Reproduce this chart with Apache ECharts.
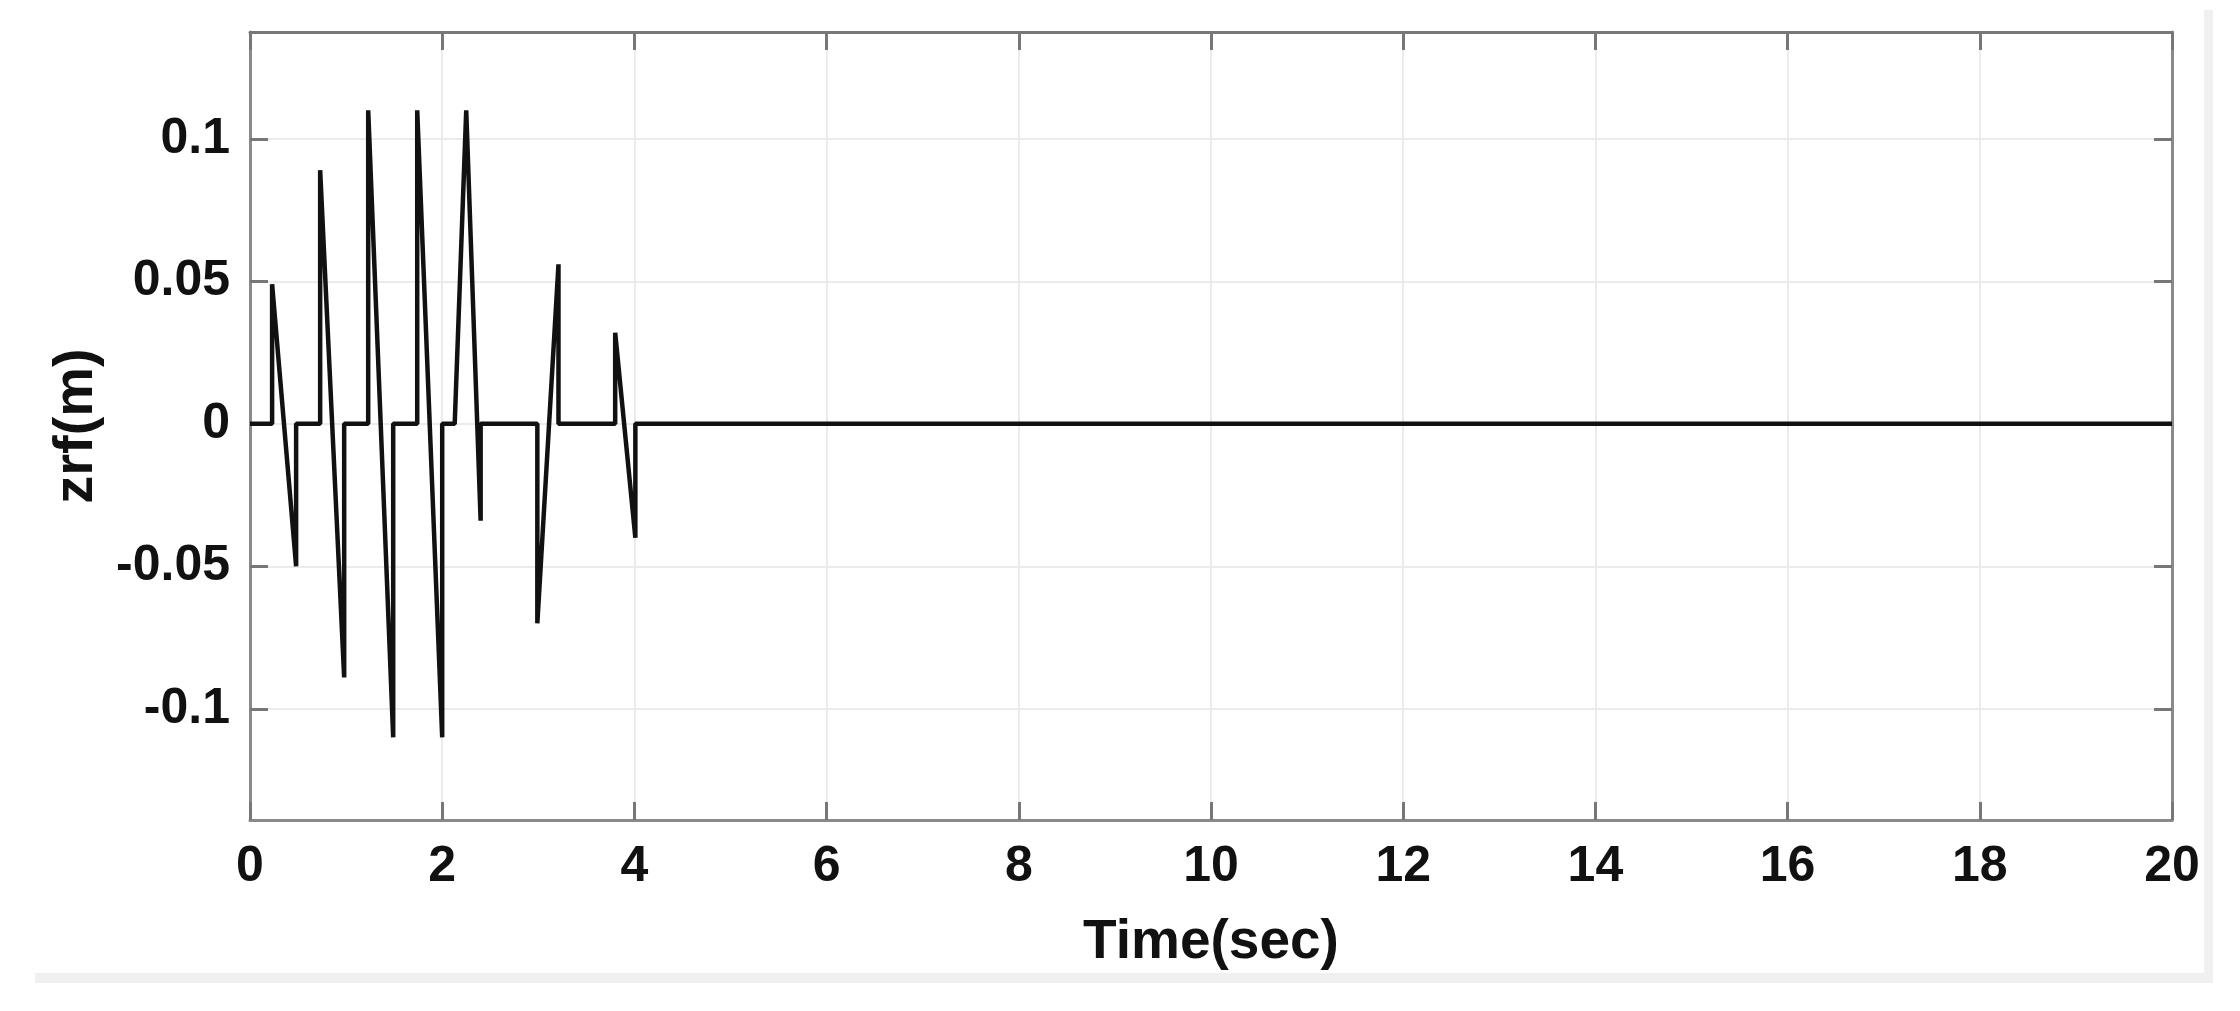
<!DOCTYPE html>
<html>
<head>
<meta charset="utf-8">
<title>zrf(m)</title>
<script src="https://cdn.jsdelivr.net/npm/echarts@6/dist/echarts.min.js"></script>
<style>
  html, body { margin: 0; padding: 0; background: #fff; }
  #chart { width: 2240px; height: 1011px; }
</style>
</head>
<body>
<div id="chart"></div>
<script>
// road input zrf(m) against time
const timeSec = [0, 0.23, 0.23, 0.48, 0.48, 0.73, 0.73, 0.98, 0.98, 1.23, 1.23, 1.49, 1.49,
  1.74, 1.74, 2.0, 2.0, 2.13, 2.25, 2.4, 2.4, 2.99, 2.99, 3.21, 3.21, 3.8, 3.8, 4.01, 4.01, 20];
const zrf = [0, 0, 0.049, -0.05, 0, 0, 0.089, -0.089, 0, 0, 0.11, -0.11, 0,
  0, 0.11, -0.11, 0, 0, 0.11, -0.034, 0, 0, -0.07, 0.056, 0, 0, 0.032, -0.04, 0, 0];
const yTicks = [-0.1, -0.05, 0, 0.05, 0.1];
const yMin = -0.139;
const yMax = 0.1375;

const font = 'Liberation Sans, Arial, Helvetica, sans-serif';
const axisGrey = '#8a8a8a';
const gridGrey = '#ebebeb';

const chart = echarts.init(document.getElementById('chart'));

const points = timeSec.map((t, i) => [t, zrf[i]]);

const option = {
  animation: false,
  backgroundColor: '#fff',
  grid: {
    left: 250,
    right: 68,
    top: 32,
    bottom: 191,
    containLabel: false,
    outerBoundsMode: 'none'
  },
  xAxis: [
    {
      type: 'value',
      min: 0,
      max: 20,
      interval: 2,
      name: 'Time(sec)',
      nameLocation: 'middle',
      nameGap: 95,
      nameTextStyle: { fontFamily: font, fontWeight: 'bold', fontSize: 55, color: '#111' },
      axisLine: { onZero: false, lineStyle: { color: axisGrey, width: 3 } },
      axisTick: { inside: true, length: 18, lineStyle: { color: '#777', width: 3 } },
      axisLabel: { margin: 22, fontFamily: font, fontWeight: 'bold', fontSize: 50, color: '#111' },
      splitLine: { show: true, lineStyle: { color: gridGrey, width: 2 } }
    },
    {
      type: 'value',
      position: 'top',
      min: 0,
      max: 20,
      interval: 2,
      axisLine: { onZero: false, lineStyle: { color: '#777', width: 3 } },
      axisTick: { inside: true, length: 18, lineStyle: { color: '#777', width: 3 } },
      axisLabel: { show: false },
      splitLine: { show: false }
    }
  ],
  yAxis: [
    {
      type: 'value',
      min: yMin,
      max: yMax,
      name: 'zrf(m)',
      nameLocation: 'middle',
      nameGap: 145,
      nameRotate: 90,
      nameTextStyle: { fontFamily: font, fontWeight: 'bold', fontSize: 56, color: '#111' },
      axisLine: { onZero: false, lineStyle: { color: axisGrey, width: 3 } },
      axisTick: { inside: true, length: 18, customValues: yTicks, lineStyle: { color: '#777', width: 3 } },
      axisLabel: { margin: 20, customValues: yTicks, fontFamily: font, fontWeight: 'bold', fontSize: 50, color: '#111' },
      splitLine: { show: true, lineStyle: { color: gridGrey, width: 2 } }
    },
    {
      type: 'value',
      position: 'right',
      min: yMin,
      max: yMax,
      axisLine: { onZero: false, lineStyle: { color: axisGrey, width: 3 } },
      axisTick: { inside: true, length: 18, customValues: yTicks, lineStyle: { color: '#777', width: 3 } },
      axisLabel: { show: false },
      splitLine: { show: false }
    }
  ],
  graphic: [
    { type: 'rect', shape: { x: 35, y: 973, width: 2178, height: 10 }, style: { fill: '#f0f0f0' }, silent: true },
    { type: 'rect', shape: { x: 2204, y: 10, width: 9, height: 973 }, style: { fill: '#f0f0f0' }, silent: true }
  ],
  series: [
    {
      type: 'line',
      xAxisIndex: 0,
      yAxisIndex: 0,
      data: points,
      showSymbol: false,
      lineStyle: { color: '#111', width: 4.5 },
      clip: true
    }
  ]
};

chart.setOption(option);
</script>
</body>
</html>
